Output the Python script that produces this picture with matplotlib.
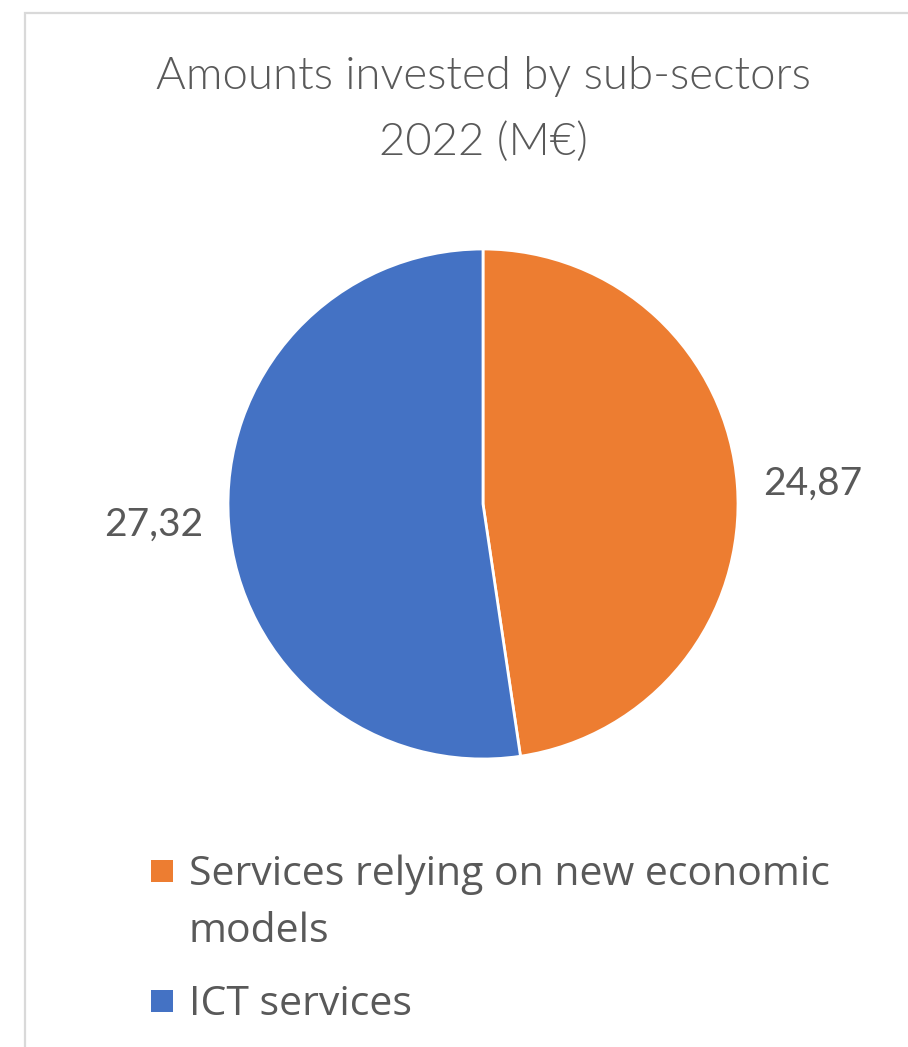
import matplotlib
matplotlib.use("Agg")
import matplotlib.pyplot as plt
from matplotlib.patches import Rectangle

# data
categories = ["Services relying on new economic\nmodels", "ICT services"]
values = [24.87, 27.32]
value_labels = ["24,87", "27,32"]
colors = ["#ED7D31", "#4472C4"]

W, H = 908, 1047
fig = plt.figure(figsize=(W / 100, H / 100), dpi=100)
fig.patch.set_facecolor("white")

# light chart border (Excel style), cut off at right and bottom
fig.patches.append(Rectangle((25 / W, -0.1), 1.2, 1.1 - 13 / H,
                             transform=fig.transFigure, fill=False,
                             edgecolor="#D9D9D9", linewidth=1.6))

text_color = "#595959"

fig.text(483 / W, 1 - 89 / H, "Amounts invested by sub-sectors",
         ha="center", va="baseline", fontsize=32.8, color=text_color,
         family="Lato", weight=300)
fig.text(483 / W, 1 - 155 / H, "2022 (M€)",
         ha="center", va="baseline", fontsize=32.8, color=text_color,
         family="Lato", weight=300)

# pie axes: center (483, 504), radius 255 px
cx, cy, r = 483, 504, 255
ax = fig.add_axes([(cx - r) / W, (H - cy - r) / H, 2 * r / W, 2 * r / H])
wedges, texts = ax.pie(values, labels=value_labels, colors=colors,
                       startangle=90, counterclock=False, labeldistance=1.1,
                       wedgeprops=dict(edgecolor="white", linewidth=2),
                       textprops=dict(fontsize=28, color=text_color,
                                      family="Lato"))
ax.set_xlim(-1, 1)
ax.set_ylim(-1, 1)
ax.set_aspect("equal")

# legend drawn by hand so the marker sits on the first text line
legend_baselines = [885, 1015]
line_step = 57
for label, color, base in zip(categories, colors, legend_baselines):
    fig.patches.append(Rectangle((151 / W, 1 - (base - 3) / H), 22 / W, 22 / H,
                                 transform=fig.transFigure, facecolor=color,
                                 edgecolor="none"))
    for i, line in enumerate(label.split("\n")):
        fig.text(189 / W, 1 - (base + i * line_step) / H, line,
                 ha="left", va="baseline", fontsize=29.5, color=text_color,
                 family="Open Sans")

fig.savefig("out.png", dpi=100)
